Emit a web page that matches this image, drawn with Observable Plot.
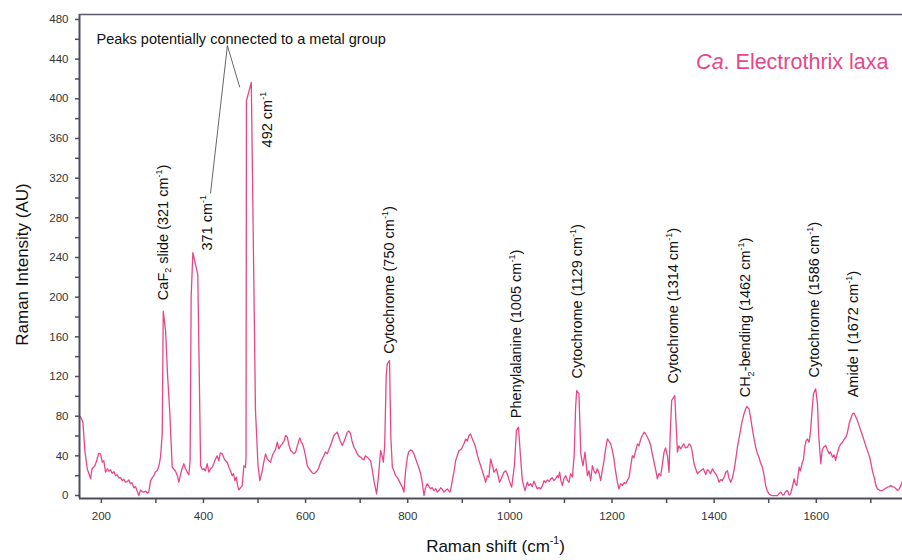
<!DOCTYPE html>
<html>
<head>
<meta charset="utf-8">
<script src="https://cdn.jsdelivr.net/npm/d3@7"></script>
<script src="https://cdn.jsdelivr.net/npm/@observablehq/plot@0.6"></script>
<style>
  html, body { margin: 0; padding: 0; background: #fff; }
  #chart svg { display: block; }
</style>
</head>
<body>
<div id="chart"></div>
<script>
// ---------- data ----------
const ramanShift = [
  151,154.4,157,161,165.5,172,175,180.4,184,188,
  191.6,195,198,201.4,205,208,211,214.5,218,221,
  224,227.4,231,234,237,240.5,244,247,250.3,253,
  256.8,260,263.5,266.6,270,273,276.4,280,283,286,
  289.5,293,296,299,302.6,306,309,312.4,314.4,319,
  323,327,332,338.5,342,345,350,354.7,358,361.4,
  364.5,367,369,372.4,382,386,387.5,391,394,397,
  400.6,403.7,407,410.4,414,417,420,423.3,426,430,
  433,436.4,440,443,446,449.5,452,454.6,457.4,460,
  462.5,466,469,472.3,475.6,476.5,477.3,486.8,495,500,
  503.6,508.3,511,514.8,518,521,524.6,528,531,534,
  537.7,541,544,547.5,551,554,557.3,560,563.8,567,
  570,573.6,577,580,582,584.7,587,590,593,596.5,
  600,603,606,609.4,612,616,619,622.5,626,629,
  632,635.6,639,642,645,648.6,652,655,658.4,661,
  665,668,671.5,674.8,678,681.3,684,687.8,691,694.4,
  697,700.8,704,707.4,710,714,717,720.5,724,727,
  732.2,736,740,743,745.4,748,751,753,757.5,760,
  763,766,769.5,773,776,779,782.5,785.7,789,792.4,
  795,798.8,802,805.3,808,812,815,818.4,821,825,
  828,831.6,835,838,841,844.5,848,851,854,857.6,
  861,864,867,870.7,873,875.8,878,880.5,884,887,
  890,893.4,897,900,903,906.6,910,913,916,919.7,
  923,926,929,932.6,936,939,942,945.7,949,952,
  955.5,959,962,966.7,970,973,977,981.6,985,988,
  992,996.7,1002,1006,1010,1014.3,1017.6,1022.7,1027.4,1030,
  1034,1037,1040.3,1044,1047,1050,1053.5,1057,1060,1063,
  1066.6,1070,1073,1076,1079.6,1083,1086,1088,1090.7,1093,
  1096,1099,1102.5,1106,1109,1112,1115.6,1119,1122,1124,
  1128.5,1132,1136.4,1140.3,1145,1148,1151.4,1154.7,1158,1161,
  1164.5,1168,1171,1174,1177.5,1181,1184,1187,1190.6,1194,
  1197,1200,1203.7,1206.8,1210,1213.5,1217,1220,1223,1226.5,
  1230,1233,1236,1239.6,1243,1246,1249.4,1252,1256,1259,
  1262.5,1266,1269,1272,1275.5,1279,1282,1285,1288.5,1292,
  1295,1298,1301.7,1304.8,1307,1310,1316,1321.3,1324,1327.7,
  1331,1334,1337,1340.8,1344,1347.3,1350,1353.8,1357,1360.4,
  1364,1367,1372,1376.7,1380,1383,1386,1389.8,1393,1396.3,
  1400,1402.8,1406,1409.4,1413,1416,1419.2,1422,1425.7,1429,
  1432,1435,1438.7,1442,1445.2,1448,1451.7,1454,1457,1461.5,
  1464,1468,1471,1474.5,1478,1481,1484,1487.6,1491,1494,
  1497,1500.6,1504,1507,1512,1517,1520,1523.6,1527,1530,
  1533,1536.7,1540,1543,1546,1549.8,1552,1555,1559.5,1562,
  1566,1568,1570.6,1573,1575.8,1579,1582,1584,1587.7,1592,
  1595.5,1598,1602,1604.5,1607.3,1611.7,1615,1618.3,1621,1625,
  1628,1631,1634,1637.8,1641,1644.5,1648,1651,1654,1657.4,
  1661,1664,1667.2,1670,1672.4,1676,1680.3,1684,1686.8,1690,
  1693.3,1697,1699.9,1703,1706.4,1710,1713,1718,1722.8,1728,
  1732.6,1736,1739,1742,1745.6,1749,1752.2,1755,1758.7,1762.5
];
const intensity = [
  80,77.3,74,45,27,17,27,30,35,42.6,
  42,33.6,35,23.5,27,24.5,26,22.5,24,20,
  21,17.8,18,15,16.5,13.4,14,15.8,11.8,13,
  7.7,9,4.4,0,5.7,4,3.4,4.5,2.3,3.4,
  15,18,20,24,25,30,38.6,62,185.8,166,
  120,85.7,28.5,24.5,20,13.4,25,32,27,23.5,
  21,35,200,245,222.8,85.7,30,26,27,25,
  32,23.5,27,28.5,33,37,40,35,43,42,
  38,35,33,28.5,25,20,22,15,18.5,10,
  5.7,8,10,30,28.5,40,398,416.6,85.7,30,
  15,25,33,42,37,35,33.6,40,43.7,46,
  53.7,47,50,52,55,60.5,58.8,52,45.4,44,
  42,43.7,50,55.4,58,53.7,52,47,40,30,
  27,25,23,21.9,23,25,28,33.6,37,40.3,
  44,42,47,50.4,55,60.5,62.2,64,58.8,55,
  50.4,54,58.8,63.8,65,62.2,55,48.7,46,42,
  40,38.6,37,36,40,38.6,37,35,25,15,
  1.7,20,45.4,40,33.6,50,120,132.8,136,60,
  28.5,25,20,18,15,12,8.4,3.4,25,38.6,
  44,46,45,42,38,32,28,21.9,15,0,
  8,11.8,9,6.7,8,5,7,3.4,5,7.8,
  6,3.4,5,6.7,5,3.4,8,15,25,35.3,
  40,45.4,46,48.7,52,57,55,60.5,62,57,
  53,48.7,42,35.3,30,25,20,13.4,20,18.5,
  37,30,23.5,27,20,13.4,18,23.5,25,21.9,
  15,8.4,30,65.5,68.9,37,15,5,13.4,10,
  11.8,9,14.4,10,6.7,8,6.7,10,15,13,
  15.8,14,16.8,18,15,17,20,18,23.5,15,
  10,17,20,15,13.4,22,18.5,40,90,105.8,
  102.5,42,30,43.7,20,25,15,30,25,21.9,
  27,22,15,25,35.3,48,57,55,52,45,
  37,25,13.4,6.7,12,10,13,11.8,15,18.5,
  30,40.3,38,45.4,52,50,57,60,63.8,62,
  58.8,55,50.4,42,33.6,25,16.8,22,20,32,
  43.7,48,40.3,23.5,60,95.8,100.8,43.7,50,47,
  50,52,48,48.7,52,50.4,45,32,27,21.9,
  24,25,27,21.2,26,25,22,27,24,21.9,
  18,13.4,16,15,19,23.5,25,18,13.4,18,
  25,35,48.7,58,67.2,75,82.4,86,89.7,87.4,
  80,67.2,58,48.7,42,38.6,33,28.5,20,10,
  5,1.7,0.5,0,0,0,2,3.4,0.5,1,
  4,5,0.5,1.7,8,16.8,12,10,28.5,25,
  33.6,36,48.7,55,57,53.7,65,80,102.5,107.6,
  92.4,60,32,45,48.7,50.4,46,42,44,38.6,
  41,35.3,42,48.7,52,53.7,57,58.8,63,72.3,
  78,82.4,83,80,77.3,72,65.5,60,55.4,50,
  45.4,40,33.6,25,18.5,10,6.7,5,5,7,
  8.4,9,10,9,8.4,7,5,6,10,15
];

// peak annotations (rotated labels), in data units
const peakLabels = ["CaF₂ slide (321 cm⁻¹)", "371 cm⁻¹", "492 cm⁻¹", "Cytochrome (750 cm⁻¹)", "Phenylalanine (1005 cm⁻¹)",
  "Cytochrome (1129 cm⁻¹)", "Cytochrome (1314 cm⁻¹)", "CH₂-bending (1462 cm⁻¹)", "Cytochrome (1586 cm⁻¹)", "Amide I (1672 cm⁻¹)"];
const peakLabelX = [315, 401, 518, 757, 1006, 1126, 1314, 1455, 1590, 1666];
const peakLabelY = [197, 247, 351, 143, 78, 118, 113, 99, 119, 99];

// leader lines for "Peaks potentially connected to a metal group"
const leaderX = [407, 440, 464];
const leaderY = [305, 453.6, 412];

const xTicksMajor = [200, 400, 600, 800, 1000, 1200, 1400, 1600];
const xTicksMinor = [300, 500, 700, 900, 1100, 1300, 1500, 1700];
const yTicksMajor = [0, 40, 80, 120, 160, 200, 240, 280, 320, 360, 400, 440, 480];
const yTicksMinor = [20, 60, 100, 140, 180, 220, 260, 300, 340, 380, 420, 460];

const titleText = "Ca. Electrothrix laxa";
const noteText = "Peaks potentially connected to a metal group";
const xLabel = "Raman shift (cm⁻¹)";
const yLabel = "Raman Intensity (AU)";

const xDomain = [150.4, 1762];
const yDomain = [-3, 485];

// ---------- build ----------
const n = Math.min(ramanShift.length, intensity.length);
const spectrum = d3.range(n).map(i => ({x: ramanShift[i], y: intensity[i]}));
const peaks = peakLabels.map((t, i) => ({t, x: peakLabelX[i], y: peakLabelY[i]}));
const leader = leaderX.map((x, i) => ({x, y: leaderY[i]}));

const pink = "#e5478a";
const axisCol = "#4c4c5e";
const font = "'Liberation Sans', Arial, Helvetica, sans-serif";

const chart = Plot.plot({
  width: 902,
  height: 560,
  marginLeft: 79,
  marginRight: 0,
  marginTop: 14,
  marginBottom: 62,
  style: {fontFamily: font, fontSize: "11.5px", color: "#333", background: "#fff"},
  x: {domain: xDomain},
  y: {domain: yDomain},
  marks: [
    Plot.line(spectrum, {x: "x", y: "y", stroke: pink, strokeWidth: 1.3}),
    Plot.line(leader, {x: "x", y: "y", stroke: "#555", strokeWidth: 0.9}),
    Plot.text(peaks, {x: "x", y: "y", text: "t", rotate: -90, textAnchor: "start", fontSize: 14.5, fill: "#111"}),
    // frame (left, bottom, top)
    Plot.ruleX([xDomain[0]], {stroke: axisCol, strokeWidth: 2}),
    Plot.ruleY([yDomain[0]], {stroke: axisCol, strokeWidth: 2}),
    Plot.ruleY([yDomain[1]], {stroke: "#5a5a6a", strokeWidth: 1.6}),
    Plot.axisX({ticks: xTicksMajor, tickSize: 5, tickPadding: 8, tickFormat: d3.format("d"), stroke: axisCol, strokeWidth: 1.5, label: null, dx: -3.5, fill: "#333"}),
    Plot.axisX({ticks: xTicksMinor, tickSize: 5, tickFormat: () => "", stroke: axisCol, strokeWidth: 1.5, label: null}),
    Plot.axisY({ticks: yTicksMajor, tickSize: 4, tickPadding: 7, tickFormat: d3.format("d"), stroke: axisCol, strokeWidth: 1.5, label: null, fill: "#333"}),
    Plot.axisY({ticks: yTicksMinor, tickSize: 4, tickFormat: () => "", stroke: axisCol, strokeWidth: 1.5, label: null}),
    // axis titles
    Plot.text([yLabel], {frameAnchor: "left", textAnchor: "middle", rotate: -90, dx: -57, dy: 8, fontSize: 17, fill: "#111"}),
    Plot.text([xLabel], {frameAnchor: "bottom", textAnchor: "middle", dx: 4.5, dy: 53, fontSize: 17, fill: "#111"}),
    // title and note
    Plot.text([titleText], {frameAnchor: "top-right", textAnchor: "end", dx: -14, dy: 39, fontSize: 21.5, fill: pink}),
    Plot.text([noteText], {frameAnchor: "top-left", textAnchor: "start", dx: 17, dy: 19, fontSize: 14.5, fill: "#111"})
  ]
});

document.getElementById("chart").appendChild(chart);

// rich text: super/subscripts and italic genus abbreviation
const NS = "http://www.w3.org/2000/svg";
d3.select(chart).selectAll("text").each(function () {
  const el = this;
  const txt = el.textContent;
  if (txt === titleText) {
    el.textContent = "";
    const a = document.createElementNS(NS, "tspan");
    a.setAttribute("font-style", "italic");
    a.textContent = "Ca";
    const b = document.createElementNS(NS, "tspan");
    b.textContent = txt.slice(2);
    el.appendChild(a); el.appendChild(b);
    return;
  }
  if (!/(⁻¹|₂)/.test(txt)) return;
  const fs = parseFloat(getComputedStyle(el).fontSize) || 13;
  const segs = txt.split(/(⁻¹|₂)/);
  el.textContent = "";
  let shift = 0;
  for (const s of segs) {
    if (!s) continue;
    const ts = document.createElementNS(NS, "tspan");
    let target = 0, text = s, size = null;
    if (s === "⁻¹") { target = -0.42 * fs; text = "-1"; size = 0.62 * fs; }
    else if (s === "₂") { target = 0.22 * fs; text = "2"; size = 0.62 * fs; }
    ts.setAttribute("dy", (target - shift).toFixed(2));
    shift = target;
    if (size) ts.setAttribute("font-size", size.toFixed(1));
    ts.textContent = text;
    el.appendChild(ts);
  }
});
</script>
</body>
</html>
